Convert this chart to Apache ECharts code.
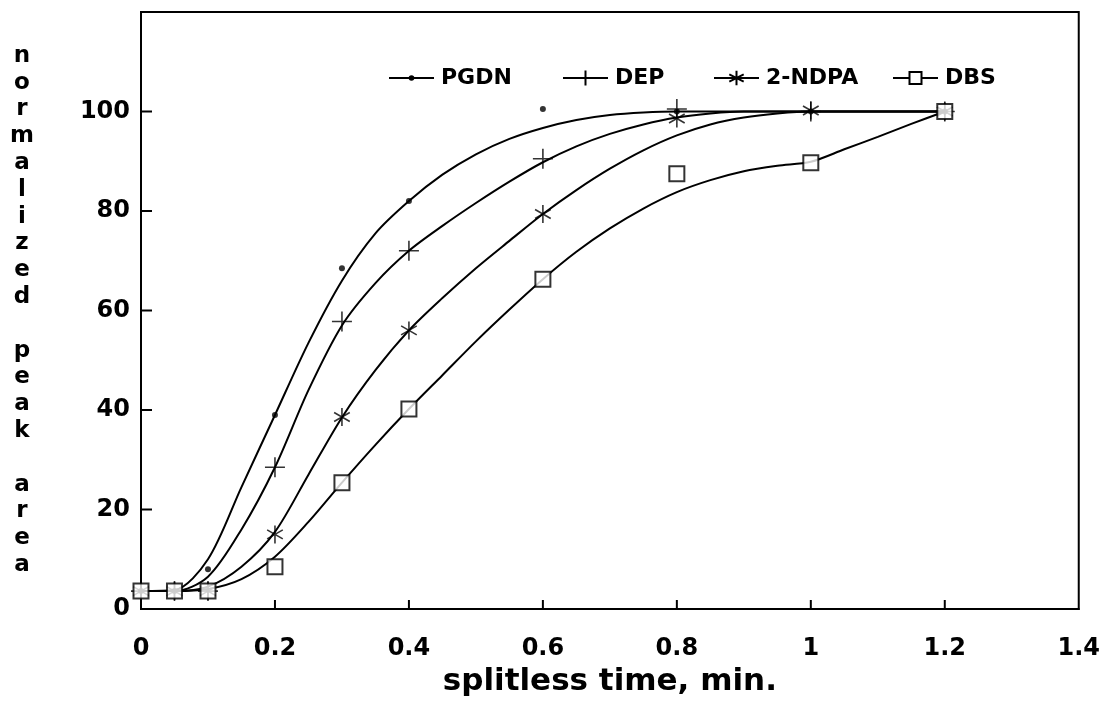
<!DOCTYPE html>
<html>
<head>
<meta charset="utf-8">
<script src="https://cdn.jsdelivr.net/npm/echarts@6/dist/echarts.min.js"></script>
<style>
  html, body { margin: 0; padding: 0; background: #fff; }
  #chart { width: 1103px; height: 702px; }
</style>
</head>
<body>
<div id="chart"></div>
<script>
// measured points (splitless time, min -> normalized peak area)
const pointX = [0, 0.05, 0.1, 0.2, 0.3, 0.4, 0.6, 0.8, 1.0, 1.2];
const pgdnPts = [3.6, 3.6, 8, 39, 68.5, 82, 100.5, 100, 100, 100];
const depPts = [3.6, 3.6, 3.6, 28.5, 57.8, 72, 90.5, 100.5, 100, 100];
const ndpaPts = [3.6, 3.6, 3.6, 15, 38.6, 56, 79.4, 98.6, 100.2, 100];
const dbsPts = [3.6, 3.6, 3.6, 8.5, 25.4, 40.2, 66.3, 87.5, 89.7, 100];

// fitted curves, every 0.05 min
const curveX = [0, 0.05, 0.1, 0.15, 0.2, 0.25, 0.3, 0.35, 0.4, 0.45, 0.5, 0.55, 0.6,
  0.65, 0.7, 0.75, 0.8, 0.85, 0.9, 0.95, 1.0, 1.05, 1.1, 1.15, 1.2];
const pgdnCurve = [3.6, 3.8, 10, 24.5, 39, 53.5, 66, 75.5, 82, 87.3, 91.4, 94.5, 96.7,
  98.3, 99.3, 99.8, 100, 100, 100, 100, 100, 100, 100, 100, 100];
const depCurve = [3.6, 3.6, 6.5, 16, 28.5, 44, 57, 65.5, 72, 77, 81.6, 85.9, 89.8,
  93, 95.5, 97.4, 98.8, 99.6, 100, 100, 100, 100, 100, 100, 100];
const ndpaCurve = [3.6, 3.6, 4.5, 8.5, 15.5, 27, 38.5, 48, 56, 62.5, 68.5, 74, 79.4,
  84.2, 88.5, 92.2, 95.2, 97.4, 98.8, 99.6, 100, 100, 100, 100, 100];
const dbsCurve = [3.6, 3.6, 4, 6, 10.5, 17.5, 25.4, 33, 40.2, 47, 53.8, 60.2, 66.3,
  71.8, 76.5, 80.5, 83.8, 86.2, 88, 89.1, 89.9, 92.4, 94.9, 97.5, 100];

const names = ['PGDN', 'DEP', '2-NDPA', 'DBS'];
const xTicks = [0.2, 0.4, 0.6, 0.8, 1, 1.2];
const yTicks = [0, 20, 40, 60, 80, 100];
const yTitle = 'normalized peak area';

const font = 'DejaVu Sans';
const plus = 'path://M10,0L10,20M0,10L20,10';
const star = 'path://M10,0L10,20M1.3,5L18.7,15M1.3,15L18.7,5';

function pairs(xs, ys) {
  return xs.map((x, i) => [x, ys[i]]);
}

// symbol settings per series
const marks = [
  { symbol: 'circle', size: 6, legendH: 7, style: { color: '#000' } },
  { symbol: plus, size: 20, legendH: 19, style: { color: 'none', borderColor: '#000', borderWidth: 1.6 } },
  { symbol: star, size: 18, legendH: 18, style: { color: 'none', borderColor: '#000', borderWidth: 1.6 } },
  { symbol: 'emptyRect', size: 15, legendH: 15, style: { color: '#000', borderColor: '#000', borderWidth: 1.8 } }
];
const legendLeft = [388, 562, 713, 892];
const curves = [pgdnCurve, depCurve, ndpaCurve, dbsCurve];
const points = [pgdnPts, depPts, ndpaPts, dbsPts];

let series = [];
names.forEach((n, i) => {
  series.push({
    name: n,
    type: 'line',
    data: pairs(curveX, curves[i]),
    smooth: 0.3,
    showSymbol: false,
    symbol: marks[i].symbol,
    symbolSize: marks[i].size,
    symbolKeepAspect: true,
    itemStyle: marks[i].style,
    lineStyle: { color: '#000', width: 2 },
    silent: true,
    z: 2
  });
});
names.forEach((n, i) => {
  series.push({
    name: n,
    type: 'scatter',
    data: pairs(pointX, points[i]),
    symbol: marks[i].symbol,
    symbolSize: marks[i].size,
    symbolKeepAspect: true,
    itemStyle: marks[i].style,
    z: 3
  });
});

// inward tick marks, drawn at the tick values through the axes
function tickSeries(data, dx, dy) {
  return {
    type: 'custom',
    silent: true,
    clip: false,
    z: 4,
    data: data,
    renderItem(params, api) {
      const p = api.coord([api.value(0), api.value(1)]);
      return {
        type: 'line',
        shape: { x1: p[0], y1: p[1], x2: p[0] + dx, y2: p[1] + dy },
        style: { stroke: '#000', lineWidth: 2 }
      };
    }
  };
}
series.push(tickSeries(yTicks.map(v => [0, v]), 11, 0));
series.push(tickSeries(xTicks.map(v => [v, 0]), 0, -9));

// one legend per entry so each can sit where the original has it
let legends = names.map((n, i) => ({
  data: [n],
  left: legendLeft[i],
  top: 67,
  itemWidth: 45,
  itemHeight: marks[i].legendH,
  itemGap: 0,
  padding: 0,
  textStyle: { fontFamily: font, fontWeight: 'bold', fontSize: 22, color: '#000', padding: [0, 0, 0, 2] }
}));

const chart = echarts.init(document.getElementById('chart'));
chart.setOption({
  backgroundColor: '#fff',
  animation: false,
  legend: legends,
  grid: {
    left: 141, right: 20, top: 12, bottom: 93,
    show: true, borderColor: '#000', borderWidth: 2
  },
  xAxis: {
    type: 'value',
    min: 0, max: 1.4, interval: 0.2,
    name: 'splitless time, min.',
    nameLocation: 'middle',
    nameGap: 57,
    nameTextStyle: { fontFamily: font, fontWeight: 'bold', fontSize: 31, color: '#000' },
    axisLine: { show: true, lineStyle: { color: '#000', width: 2 } },
    axisTick: { show: false },
    splitLine: { show: false },
    axisLabel: {
      margin: 28,
      fontFamily: font, fontWeight: 'bold', fontSize: 24, color: '#000'
    }
  },
  yAxis: {
    type: 'value',
    min: 0, max: 120, interval: 20,
    name: yTitle.split('').join('\n'),
    nameLocation: 'middle',
    nameRotate: 0,
    nameGap: 119,
    nameTextStyle: { fontFamily: font, fontWeight: 'bold', fontSize: 23, lineHeight: 26.8, color: '#000', align: 'center' },
    axisLine: { show: true, lineStyle: { color: '#000', width: 2 } },
    axisTick: { show: false },
    splitLine: { show: false },
    axisLabel: {
      customValues: yTicks,
      margin: 11,
      fontFamily: font, fontWeight: 'bold', fontSize: 24, color: '#000'
    }
  },
  series: series
});
</script>
</body>
</html>
